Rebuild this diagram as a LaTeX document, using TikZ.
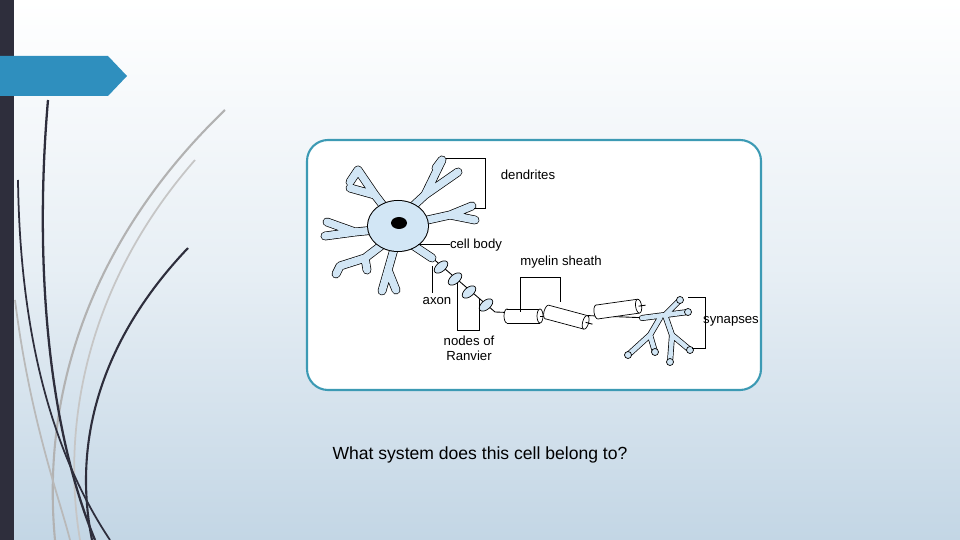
\documentclass[tikz,border=0pt]{standalone}
\usepackage{fontspec}
\setmainfont{Liberation Sans}
\definecolor{bgb}{HTML}{C3D6E5}
\definecolor{bar}{HTML}{2E2E3C}
\definecolor{tab}{HTML}{2F8FBE}
\definecolor{frm}{HTML}{3C9AB4}
\definecolor{cell}{HTML}{D2E6F5}
\begin{document}
\begin{tikzpicture}[x=0.02cm,y=-0.02cm,
  lbl/.style={font=\fontsize{7.5}{8.5}\selectfont,inner sep=0pt,align=center},
  brk/.style={draw=black,line width=0.35pt},
  outer/.style={line width=5pt,line cap=round,line join=round,draw=black},
  inner/.style={line width=4.2pt,line cap=round,line join=round,draw=cell},
  outerb/.style={line width=3.4pt,line cap=round,line join=round,draw=black},
  innerb/.style={line width=2.6pt,line cap=round,line join=round,draw=cell},
  sheath/.style={draw=black,fill=white,line width=0.4pt}]
\useasboundingbox (0,0) rectangle (960,540);
\shade[top color=white,bottom color=bgb,middle color=white!60!bgb] (0,0) rectangle (960,540);
\fill[bar] (0,0) rectangle (14,540);
\fill[tab] (0,56) -- (108,56) -- (127,76) -- (108,96) -- (0,96) -- cycle;
% swooshes
\draw[gray!60,line width=1.2pt] (225,110) .. controls (100,230) and (40,380) .. (55,540);
\draw[gray!45,line width=1pt] (195,160) .. controls (90,280) and (60,420) .. (80,540);
\draw[bar,line width=1.3pt] (48,100) .. controls (35,250) and (45,420) .. (95,540);
\draw[bar,line width=1.2pt] (188,248) .. controls (110,330) and (70,430) .. (92,540);
\draw[bar,line width=1pt] (18,180) .. controls (20,330) and (50,450) .. (110,540);
\draw[gray!55,line width=1pt] (15,300) .. controls (30,420) and (60,500) .. (70,540);
% frame
\draw[frm,line width=1.2pt,fill=white,rounded corners=12] (307,140) rectangle (761,390);
% axon core line
\draw[black,line width=0.5pt] (430,256) -- (495,312) -- (650,318);
% neuron dendrites
\foreach \s in {outer,inner}{
 \draw[\s] (398,225) -- (375,195) -- (358,170) (375,195) -- (350,188) (358,170) -- (350,182);
 \draw[\s] (398,220) -- (425,195) -- (442,160) (425,195) -- (458,172) (442,160)--(436,168);
 \draw[\s] (405,225) -- (450,215) -- (475,220) (450,215) -- (472,206);
 \draw[\s] (395,228) -- (355,232) -- (325,236) (355,232) -- (327,222);
 \draw[\s] (395,235) -- (365,258) -- (340,266) (365,258) -- (367,270) (340,266)--(336,274);
 \draw[\s] (398,235) -- (388,270) -- (382,291) (388,270) -- (396,290);
 \draw[\s] (405,240) -- (432,258);
}
\fill[black] (398,226) ellipse (31 and 26);
\fill[cell] (398,226) ellipse (30 and 25);
\fill[black] (399,223) ellipse (8 and 6);
% axon nodes
\foreach \x/\y in {441/267,455/279,469/292,486/305}
  \draw[sheath,fill=cell,rotate around={40:(\x,\y)}] (\x,\y) ellipse (8 and 4.5);
% myelin cylinders
\foreach \x/\y/\a/\L in {507/316/0/33,547/312/-15/40,597/312/8/42}{
 \begin{scope}[shift={(\x,\y)},rotate=\a]
  \draw[sheath] (0,0) ellipse (3 and 7);
  \fill[white] (0,-7) rectangle (\L,7);
  \draw[line width=0.4pt] (0,-7) -- (\L,-7) (0,7) -- (\L,7);
  \draw[sheath] (\L,0) ellipse (3 and 7);
  \draw[black,line width=0.5pt] (\L,0) -- (\L+7,0);
 \end{scope}}
% terminal
\foreach \s in {outerb,innerb}{
 \draw[\s] (642,318) -- (665,315) -- (680,300) (665,315) -- (688,312) (665,315)--(672,335)--(690,350) (672,335)--(670,362) (660,318)--(650,335)--(628,355) (650,335)--(655,352);
}
\foreach \x/\y in {680/300,688/312,690/350,670/362,628/355,655/352}
  \fill[cell,draw=black,line width=0.4pt] (\x,\y) circle (3.5);
% labels
\node[lbl] (den) at (528,175) {dendrites};
\draw[brk] (446,158) -- (485,158) -- (485,208) -- (474,208);
\node[lbl] (cb) at (476,245) {cell body};
\draw[brk] (418,244) -- (450,244);
\node[lbl] (my) at (561,262) {myelin sheath};
\draw[brk] (520,312) -- (520,277) -- (560,277) -- (560,302);
\node[lbl] (ax) at (437,301) {axon};
\draw[brk] (432,266) -- (432,293);
\node[lbl] (nr) at (469,348) {nodes of\\Ranvier};
\draw[brk] (457,283) -- (457,330) -- (479,330) -- (479,299);
\node[lbl] (sy) at (731,321) {synapses};
\draw[brk] (688,297) -- (705,297) -- (705,348) -- (692,348);
\node[font=\fontsize{10}{12}\selectfont] (q) at (480,455) {What system does this cell belong to?};
\end{tikzpicture}
\end{document}
